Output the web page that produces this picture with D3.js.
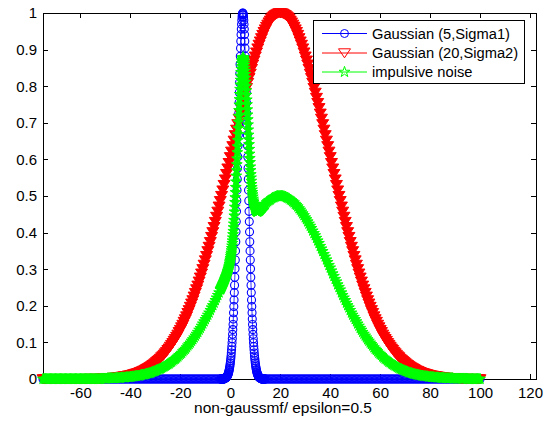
<!DOCTYPE html>
<html><head><meta charset="utf-8">
<script src="https://cdn.jsdelivr.net/npm/d3@7"></script>
<style>
body{margin:0;background:#fff}
svg text{font-family:"Liberation Sans",Arial,sans-serif;fill:#000}
</style>
</head><body>
<svg id="c" width="547" height="421"></svg>
<script>
// ---------- data ----------
const xTicks = [-60,-40,-20,0,20,40,60,80,100,120];
const xTickLabels = ["-60","-40","-20","0","20","40","60","80","100","120"];
const yTicks = [0,0.1,0.2,0.3,0.4,0.5,0.6,0.7,0.8,0.9,1];
const yTickLabels = ["0","0.1","0.2","0.3","0.4","0.5","0.6","0.7","0.8","0.9","1"];
const seriesNames = ["Gaussian (5,Sigma1)","Gaussian (20,Sigma2)","impulsive noise"];
const xLabel = "non-gaussmf/ epsilon=0.5";

// sample grids (x positions)
const gridCoarseLeft = d3.range(0,142).map(i => -75 + i*0.5);   // -75 .. -4.5
const gridFine       = d3.range(0,181).map(i => -4 + i*0.1);    // -4 .. 14
const gridCoarseRight= d3.range(0,172).map(i => 14.5 + i*0.5);  // 14.5 .. 100
const gridRed        = d3.range(0,351).map(i => -75 + i*0.5);   // -75 .. 100

// Gaussian (5,Sigma1) — blue
const blueLeft = [
0,0,0,0,0,0,0,0,0,0, 0,0,0,0,0,0,0,0,0,0, 0,0,0,0,0,0,0,0,0,0,
0,0,0,0,0,0,0,0,0,0, 0,0,0,0,0,0,0,0,0,0, 0,0,0,0,0,0,0,0,0,0,
0,0,0,0,0,0,0,0,0,0, 0,0,0,0,0,0,0,0,0,0, 0,0,0,0,0,0,0,0,0,0,
0,0,0,0,0,0,0,0,0,0, 0,0,0,0,0,0,0,0,0,0, 0,0,0,0,0,0,0,0,0,0,
0,0,0,0,0,0,0,0,0,0, 0,0,0,0,0,0,0,0,0,0, 0,0];
const bluePeak = [
0,0,0,0,0,0,0,0,0,0,
0,0,0,0,0,.001,.001,.001,.002,.002,
.002,.003,.003,.004,.004,.005,.006,.007,.008,.010,
.011,.013,.015,.017,.020,.023,.026,.030,.034,.039,
.044,.050,.056,.063,.071,.080,.089,.099,.110,.122,
.135,.149,.164,.181,.198,.216,.236,.256,.278,.301,
.325,.350,.375,.402,.430,.458,.487,.516,.546,.576,
.607,.637,.667,.697,.726,.755,.783,.810,.835,.860,
.882,.904,.923,.941,.956,.969,.980,.989,.995,.999,
1.000,.999,.995,.989,.980,.969,.956,.941,.923,.904,
.882,.860,.835,.810,.783,.755,.726,.697,.667,.637,
.607,.576,.546,.516,.487,.458,.430,.402,.375,.350,
.325,.301,.278,.256,.236,.216,.198,.181,.164,.149,
.135,.122,.110,.099,.089,.080,.071,.063,.056,.050,
.044,.039,.034,.030,.026,.023,.020,.017,.015,.013,
.011,.010,.008,.007,.006,.005,.004,.004,.003,.003,
.002,.002,.002,.001,.001,.001,0,0,0,0,
0,0,0,0,0,0,0,0,0,0,
0];
const blueRight = [
0,0,0,0,0,0,0,0,0,0, 0,0,0,0,0,0,0,0,0,0, 0,0,0,0,0,0,0,0,0,0,
0,0,0,0,0,0,0,0,0,0, 0,0,0,0,0,0,0,0,0,0, 0,0,0,0,0,0,0,0,0,0,
0,0,0,0,0,0,0,0,0,0, 0,0,0,0,0,0,0,0,0,0, 0,0,0,0,0,0,0,0,0,0,
0,0,0,0,0,0,0,0,0,0, 0,0,0,0,0,0,0,0,0,0, 0,0,0,0,0,0,0,0,0,0,
0,0,0,0,0,0,0,0,0,0, 0,0,0,0,0,0,0,0,0,0, 0,0,0,0,0,0,0,0,0,0,
0,0,0,0,0,0,0,0,0,0, 0,0,0,0,0,0,0,0,0,0, 0,0];

// Gaussian (20,Sigma2) — red
const red = [
0,0,0,0,0,0,0,0,0,0,
0,0,0,0,0,0,0,0,0,0,
0,0,0,0,0,0,0,0,0,0,
0,0,0,0,0,.001,.001,.001,.001,.001,
.001,.001,.001,.001,.001,.001,.001,.002,.002,.002,
.002,.002,.003,.003,.003,.003,.004,.004,.004,.005,
.005,.006,.006,.007,.007,.008,.008,.009,.010,.010,
.011,.012,.013,.014,.015,.016,.017,.018,.020,.021,
.023,.024,.026,.028,.030,.032,.034,.036,.039,.041,
.044,.047,.050,.053,.056,.060,.063,.067,.071,.075,
.080,.084,.089,.094,.099,.105,.110,.116,.122,.129,
.135,.142,.149,.157,.164,.172,.181,.189,.198,.207,
.216,.226,.236,.246,.256,.267,.278,.289,.301,.313,
.325,.337,.350,.362,.375,.389,.402,.416,.430,.444,
.458,.472,.487,.501,.516,.531,.546,.561,.576,.591,
.607,.622,.637,.652,.667,.682,.697,.712,.726,.741,
.755,.769,.783,.796,.810,.823,.835,.848,.860,.871,
.882,.893,.904,.914,.923,.932,.941,.949,.956,.963,
.969,.975,.980,.985,.989,.992,.995,.997,.999,1.000,
1.000,1.000,.999,.997,.995,.992,.989,.985,.980,.975,
.969,.963,.956,.949,.941,.932,.923,.914,.904,.893,
.882,.871,.860,.848,.835,.823,.810,.796,.783,.769,
.755,.741,.726,.712,.697,.682,.667,.652,.637,.622,
.607,.591,.576,.561,.546,.531,.516,.501,.487,.472,
.458,.444,.430,.416,.402,.389,.375,.362,.350,.337,
.325,.313,.301,.289,.278,.267,.256,.246,.236,.226,
.216,.207,.198,.189,.181,.172,.164,.157,.149,.142,
.135,.129,.122,.116,.110,.105,.099,.094,.089,.084,
.080,.075,.071,.067,.063,.060,.056,.053,.050,.047,
.044,.041,.039,.036,.034,.032,.030,.028,.026,.024,
.023,.021,.020,.018,.017,.016,.015,.014,.013,.012,
.011,.010,.010,.009,.008,.008,.007,.007,.006,.006,
.005,.005,.004,.004,.004,.003,.003,.003,.003,.002,
.002,.002,.002,.002,.001,.001,.001,.001,.001,.001,
.001,.001,.001,.001,.001,.001,0,0,0,0,
0];

// impulsive noise — green
const greenLeft = [
0,0,0,0,0,0,0,0,0,0,
0,0,0,0,0,0,0,0,0,0,
0,0,0,0,0,0,0,0,0,0,
0,0,0,0,0,0,0,0,0,0,
0,0,0,0,0,0,0,.001,.001,.001,
.001,.001,.002,.002,.002,.002,.002,.002,.002,.003,
.003,.003,.003,.004,.004,.004,.004,.005,.005,.005,
.006,.006,.007,.007,.008,.008,.009,.009,.010,.011,
.012,.012,.013,.014,.015,.016,.017,.018,.020,.021,
.022,.024,.025,.027,.028,.030,.032,.034,.036,.038,
.040,.042,.045,.047,.050,.053,.055,.058,.061,.065,
.068,.071,.075,.079,.082,.086,.091,.095,.099,.104,
.108,.113,.118,.123,.128,.134,.139,.145,.151,.157,
.163,.169,.175,.181,.188,.195,.201,.208,.215,.222,
.229,.236];
const greenPeak = [
.244,.245,.246,.248,.249,.251,.252,.254,.255,.257,
.258,.260,.261,.263,.264,.266,.268,.269,.271,.273,
.274,.276,.278,.280,.281,.283,.285,.287,.289,.292,
.294,.296,.299,.301,.304,.307,.310,.314,.318,.322,
.326,.330,.335,.340,.345,.351,.357,.364,.371,.378,
.386,.395,.404,.414,.424,.434,.446,.457,.470,.483,
.496,.510,.524,.539,.555,.570,.586,.602,.619,.635,
.652,.669,.685,.702,.718,.734,.749,.764,.778,.792,
.804,.817,.828,.838,.847,.855,.862,.868,.872,.876,
.878,.879,.878,.876,.873,.869,.864,.858,.850,.842,
.833,.823,.812,.801,.788,.776,.763,.750,.736,.722,
.709,.695,.681,.667,.654,.641,.628,.615,.603,.592,
.580,.570,.559,.550,.541,.532,.524,.517,.510,.504,
.498,.492,.487,.483,.479,.476,.472,.469,.467,.465,
.463,.462,.460,.460,.459,.458,.458,.457,.457,.458,
.458,.458,.458,.459,.459,.460,.460,.461,.461,.462,
.463,.464,.465,.465,.466,.467,.467,.468,.469,.470,
.471,.472,.472,.473,.474,.475,.475,.476,.477,.477,
.478];
const greenRight = [
.482,
.485,.488,.490,.493,.495,.496,.498,.499,.500,.500,
.500,.500,.500,.499,.498,.496,.495,.493,.490,.488,
.485,.482,.478,.475,.471,.466,.462,.457,.452,.447,
.441,.436,.430,.424,.418,.412,.405,.398,.392,.385,
.378,.371,.363,.356,.349,.341,.334,.326,.319,.311,
.304,.296,.288,.281,.273,.266,.258,.251,.244,.236,
.229,.222,.215,.208,.201,.195,.188,.181,.175,.169,
.163,.157,.151,.145,.139,.134,.128,.123,.118,.113,
.108,.104,.099,.095,.091,.086,.082,.079,.075,.071,
.068,.065,.061,.058,.055,.053,.050,.047,.045,.042,
.040,.038,.036,.034,.032,.030,.028,.027,.025,.024,
.022,.021,.020,.018,.017,.016,.015,.014,.013,.012,
.012,.011,.010,.009,.009,.008,.008,.007,.007,.006,
.006,.005,.005,.005,.004,.004,.004,.004,.003,.003,
.003,.003,.002,.002,.002,.002,.002,.002,.002,.001,
.001,.001,.001,.001,.001,.001,.001,.001,.001,.001,
0,0,0,0,0,0,0,0,0,0,
0];

// ---------- build ----------
function zip(xs, ys, name){
  if (xs.length !== ys.length) throw new Error(name + " length " + xs.length + " vs " + ys.length);
  return xs.map((v,i) => [v, ys[i]]);
}
const blueData  = [...zip(gridCoarseLeft, blueLeft, "blueL"), ...zip(gridFine, bluePeak, "blueP"), ...zip(gridCoarseRight, blueRight, "blueR")];
const redData   = zip(gridRed, red, "red");
const greenData = [...zip(gridCoarseLeft, greenLeft, "greenL"), ...zip(gridFine, greenPeak, "greenP"), ...zip(gridCoarseRight, greenRight, "greenR")];

const L = 43, R = 536, T = 13, B = 379;
const x = d3.scaleLinear().domain([-75, 122.4]).range([L, R]);
const y = d3.scaleLinear().domain([0, 1]).range([B, T]);
const svg = d3.select("#c");
svg.append("rect").attr("width",547).attr("height",421).attr("fill","#fff");

// axes (below data)
const axG = svg.append("g");
function styleAxis(g){
  g.attr("font-family", null).attr("font-size", null);
  g.selectAll("path,line").attr("stroke","#000").attr("stroke-width",1).attr("shape-rendering","crispEdges");
  g.selectAll("text").style("font-size","15px").attr("fill","#000");
}
axG.append("g").attr("transform",`translate(0,${B})`)
  .call(d3.axisBottom(x).tickValues(xTicks).tickFormat((d,i)=>xTickLabels[i]).tickSizeInner(-5).tickSizeOuter(0).tickPadding(8))
  .call(styleAxis);
axG.append("g").attr("transform",`translate(0,${T})`)
  .call(d3.axisTop(x).tickValues(xTicks).tickFormat("").tickSizeInner(-5).tickSizeOuter(0))
  .call(styleAxis);
axG.append("g").attr("transform",`translate(${L},0)`)
  .call(d3.axisLeft(y).tickValues(yTicks).tickFormat((d,i)=>yTickLabels[i]).tickSizeInner(-5).tickSizeOuter(0).tickPadding(6))
  .call(styleAxis);
axG.append("g").attr("transform",`translate(${R},0)`)
  .call(d3.axisRight(y).tickValues(yTicks).tickFormat("").tickSizeInner(-5).tickSizeOuter(0))
  .call(styleAxis);

svg.append("text").attr("x",283).attr("y",413).attr("text-anchor","middle")
  .style("font-size","15.5px").text(xLabel);

// markers
const circleD = d3.symbol(d3.symbolCircle, Math.PI*4*4)();
const triD = "M-6,-4.2L6,-4.2L0,4.8Z";
const starD = d3.symbol(d3.symbolStar, 36)();

const series = [
  {data: blueData,  color: "#0000ff", d: circleD, fill: "none", sw: 1.1},
  {data: redData,   color: "#ff0000", d: triD,    fill: "#ff0000", sw: 1},
  {data: greenData, color: "#00ff00", d: starD,   fill: "#00ff00", sw: 1}
];
const line = d3.line().x(d => x(d[0])).y(d => y(d[1]));
series.forEach(s => {
  const g = svg.append("g");
  g.append("path").attr("d", line(s.data)).attr("fill","none").attr("stroke", s.color).attr("stroke-width", 0.8);
  g.selectAll("path.m").data(s.data).join("path").attr("class","m")
    .attr("d", s.d)
    .attr("transform", d => `translate(${x(d[0])},${y(d[1])})`)
    .attr("fill", s.fill).attr("stroke", s.color).attr("stroke-width", s.sw);
});

// legend
const lg = svg.append("g");
lg.append("rect").attr("x",313.5).attr("y",20.5).attr("width",211).attr("height",63)
  .attr("fill","#fff").attr("stroke","#000").attr("stroke-width",1);
const rowsY = [33.5, 53, 72];
series.forEach((s,i) => {
  const yy = rowsY[i];
  lg.append("line").attr("x1",322).attr("x2",367).attr("y1",yy).attr("y2",yy)
    .attr("stroke", s.color).attr("stroke-width",1);
  lg.append("path").attr("d", s.d).attr("transform",`translate(344.5,${yy})`)
    .attr("fill","none").attr("stroke", s.color).attr("stroke-width",1);
  lg.append("text").attr("x",372).attr("y",yy).attr("dy","0.35em")
    .style("font-size","14.7px").text(seriesNames[i]);
});
</script>
</body></html>
